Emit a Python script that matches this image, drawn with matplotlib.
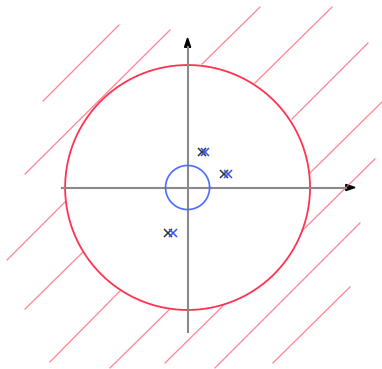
import numpy as np
import matplotlib
matplotlib.use('Agg')
import matplotlib.pyplot as plt

# hatch segments outside the unit circle (start x/y, end x/y)
hx0 = [-1.18, -1.327, 0.118, 0.550, 0.852, 0.999, 0.942, 0.224, 0.697, -1.474, -1.327, -1.123, -0.633, -0.184]
hy0 = [0.706, 0.110, 1.008, 0.853, 0.559, 0.118, -0.347, -1.473, -1.433, -0.592, -0.992, -1.424, -1.473, -1.433]
hx1 = [-0.560, -0.144, 0.591, 1.179, 1.473, 1.65, 1.530, 1.407, 1.326, -1.001, -0.854, -0.544, -0.152, 0.289]
hy1 = [1.327, 1.286, 1.473, 1.473, 1.180, 0.76, 0.233, -0.290, -0.812, -0.118, -0.527, -0.837, -1.0, -0.967]

# pole / zero pairs
xa = [0.115, 0.297, -0.158]
xb = [0.142, 0.33, -0.117]
ym = [0.288, 0.11, -0.374]

r_big = 1.0
r_small = 0.18
x_axis = (-1.025, 1.367)
y_axis = (-1.18, 1.22)

fig = plt.figure(figsize=(3.82, 3.69), dpi=100)
ax = fig.add_axes([0, 0, 1, 1])

for a, b, c, d in zip(hx0, hy0, hx1, hy1):
    ax.plot([a, c], [b, d], color='#ff5a6e', lw=0.9, alpha=0.75)

t = np.linspace(0, 2*np.pi, 400)
ax.plot(r_big*np.cos(t), r_big*np.sin(t), color='#ff3350', lw=1.3)

# axes
hl = 0.075
hw = 0.05
ax.plot([x_axis[0], x_axis[1] - hl], [0, 0], color='#8a8a8a', lw=1.5)
ax.plot([0, 0], [y_axis[0], y_axis[1] - hl], color='#8a8a8a', lw=1.5)
ax.arrow(x_axis[1] - hl, 0, hl, 0, width=0.001, head_width=hw, head_length=hl,
         length_includes_head=True, fc='k', ec='k')
ax.arrow(0, y_axis[1] - hl, 0, hl, width=0.001, head_width=hw, head_length=hl,
         length_includes_head=True, fc='k', ec='k')

ax.plot(r_small*np.cos(t), r_small*np.sin(t), color='#4d6bff', lw=1.2)

ax.plot(xa, ym, 'x', color='#333333', ms=6, mew=1.1)
ax.plot(xb, ym, 'x', color='#3355ff', ms=6, mew=1.1)

ax.set_xlim(-1.531, 1.587)
ax.set_ylim(-1.482, 1.531)
ax.set_aspect('equal')
ax.axis('off')

fig.savefig('out.png', dpi=100)
